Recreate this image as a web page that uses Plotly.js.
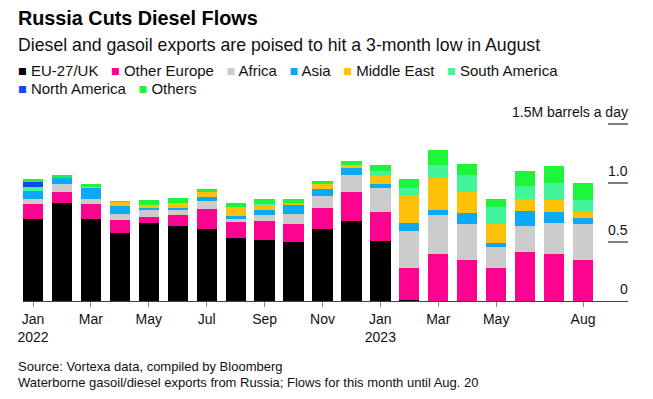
<!DOCTYPE html>
<html>
<head>
<meta charset="utf-8">
<script src="https://cdn.plot.ly/plotly-3.0.1.min.js"></script>
<style>html,body{margin:0;padding:0;background:#fff;}#chart{width:653px;height:399px;}</style>
</head>
<body>
<div id="chart"></div>
<script>
// ---- Data (million barrels a day) ----
const months = ["Jan 2022","Feb 2022","Mar 2022","Apr 2022","May 2022","Jun 2022","Jul 2022","Aug 2022","Sep 2022","Oct 2022","Nov 2022","Dec 2022","Jan 2023","Feb 2023","Mar 2023","Apr 2023","May 2023","Jun 2023","Jul 2023","Aug 2023"];
const euUK         = [0.695,0.830,0.695,0.576,0.661,0.636,0.610,0.534,0.517,0.500,0.610,0.678,0.508,0.008,0,0,0,0,0,0];
const otherEurope  = [0.130,0.094,0.130,0.110,0.051,0.093,0.170,0.135,0.161,0.153,0.178,0.246,0.246,0.274,0.398,0.347,0.282,0.415,0.398,0.347];
const africa       = [0.039,0.068,0.039,0.051,0.062,0.042,0.067,0.026,0.051,0.084,0.102,0.144,0.204,0.314,0.331,0.306,0.176,0.221,0.263,0.306];
const asia         = [0.068,0.053,0.096,0.071,0.017,0.020,0.037,0.025,0.042,0.074,0.059,0.059,0.036,0.065,0.042,0.096,0.036,0.130,0.096,0.050];
const middleEast   = [0,0,0.005,0.028,0.020,0.039,0.042,0.077,0.043,0.008,0.043,0.023,0.068,0.237,0.274,0.177,0.161,0.098,0.102,0.054];
const southAmerica = [0.034,0,0,0,0,0,0,0,0.010,0.015,0,0,0.040,0.060,0.110,0.145,0.142,0.113,0.141,0.099];
const northAmerica = [0.045,0,0,0,0,0,0,0,0,0,0,0,0,0,0,0,0,0,0,0];
const others       = [0.023,0.023,0.029,0.014,0.045,0.043,0.023,0.036,0.040,0.030,0.025,0.036,0.050,0.076,0.125,0.090,0.067,0.125,0.144,0.144];

const seriesNames = ["EU-27/UK","Other Europe","Africa","Asia","Middle East","South America","North America","Others"];
const seriesValues = [euUK, otherEurope, africa, asia, middleEast, southAmerica, northAmerica, others];
const seriesColors = ["#000000","#fc0390","#cccccc","#0aaaf8","#fdc10a","#42f59a","#1148f5","#1cf53a"];

const xTickVals  = ["Jan 2022","Mar 2022","May 2022","Jul 2022","Sep 2022","Nov 2022","Jan 2023","Mar 2023","May 2023","Aug 2023"];
const xTickText  = ["Jan<br>2022","Mar","May","Jul","Sep","Nov","Jan<br>2023","Mar","May","Aug"];
const yTickVals  = [0, 0.5, 1.0, 1.5];
const yTickText  = ["0","0.5","1.0","1.5M barrels a day"];

const titleText = "Russia Cuts Diesel Flows";
const subtitleText = "Diesel and gasoil exports are poised to hit a 3-month low in August";
const noteLines = ["Source: Vortexa data, compiled by Bloomberg","Waterborne gasoil/diesel exports from Russia; Flows for this month until Aug. 20"];

// ---- Layout geometry ----
const W = 653, H = 399;
const plotL = 23, plotR = 628, plotT = 105, plotB = 301;
const px = x => (x - plotL) / (plotR - plotL);
const py = y => (plotB - y) / (plotB - plotT);
const FONT = "Liberation Sans, Arial, Helvetica, sans-serif";

const traces = seriesNames.map((n, i) => ({
  type: "bar", name: n, x: months, y: seriesValues[i],
  marker: {color: seriesColors[i], line: {width: 0}},
  hoverinfo: "x+y+name"
}));

const annotations = [];
annotations.push({xref:"paper", yref:"paper", x:px(16), y:py(18), xanchor:"left", yanchor:"middle",
  text:"<b>"+titleText+"</b>", showarrow:false, font:{family:FONT, size:19.8, color:"#000"}});
annotations.push({xref:"paper", yref:"paper", x:px(16), y:py(45), xanchor:"left", yanchor:"middle",
  text:subtitleText, showarrow:false, font:{family:FONT, size:17.7, color:"#111"}});

// legend rows built from names/colors
const legendRows = [[0,1,2,3,4,5],[6,7]];
const legendY = [70, 88];
legendRows.forEach((row, r) => {
  const txt = row.map(i => '<span style="color:' + seriesColors[i] + ';font-size:14.5px">■</span> ' + seriesNames[i]).join('   ');
  annotations.push({xref:"paper", yref:"paper", x:px(16), y:py(legendY[r]), xanchor:"left", yanchor:"middle",
    text:txt, showarrow:false, font:{family:FONT, size:15, color:"#111"}});
});

// y tick labels (above the tick lines, right aligned)
yTickVals.forEach((v, i) => {
  annotations.push({xref:"paper", yref:"y", x:px(630), y:v, xanchor:"right", yanchor:"bottom", yshift:2,
    text:yTickText[i], showarrow:false, font:{family:FONT, size:14, color:"#111"}});
});

// footnotes
annotations.push({xref:"paper", yref:"paper", x:px(16), y:py(366), xanchor:"left", yanchor:"middle",
  text:noteLines[0], showarrow:false, font:{family:FONT, size:13, color:"#111"}});
annotations.push({xref:"paper", yref:"paper", x:px(16), y:py(382), xanchor:"left", yanchor:"middle",
  text:noteLines[1], showarrow:false, font:{family:FONT, size:13, color:"#111"}});

const shapes = yTickVals.filter(v => v > 0).map(v => ({
  type:"line", xref:"paper", yref:"y", x0:px(608), x1:px(628), y0:v, y1:v,
  line:{color:"#000", width:1}
}));

const unit = 28.95;
const layout = {
  width: W, height: H,
  margin: {l: plotL, r: W - plotR, t: plotT, b: H - plotB, pad: 0},
  paper_bgcolor: "#fff", plot_bgcolor: "#fff",
  barmode: "stack", bargap: 0.3,
  showlegend: false,
  font: {family: FONT, size: 14, color: "#111"},
  xaxis: {
    type: "category", range: [-10/unit, 19 + 45/unit],
    tickvals: xTickVals, ticktext: xTickText,
    ticks: "outside", ticklen: 5, tickcolor: "#888", tickwidth: 1,
    showline: true, linecolor: "#444", linewidth: 1,
    showgrid: false, zeroline: false, fixedrange: true,
    tickfont: {family: FONT, size: 14, color: "#111"}
  },
  yaxis: {
    range: [0, (plotB - plotT) / 118],
    showticklabels: false, showgrid: false, zeroline: false, showline: false, ticks: "",
    fixedrange: true
  },
  annotations: annotations,
  shapes: shapes
};

Plotly.newPlot("chart", traces, layout, {displayModeBar: false, staticPlot: true});
</script>
</body>
</html>
